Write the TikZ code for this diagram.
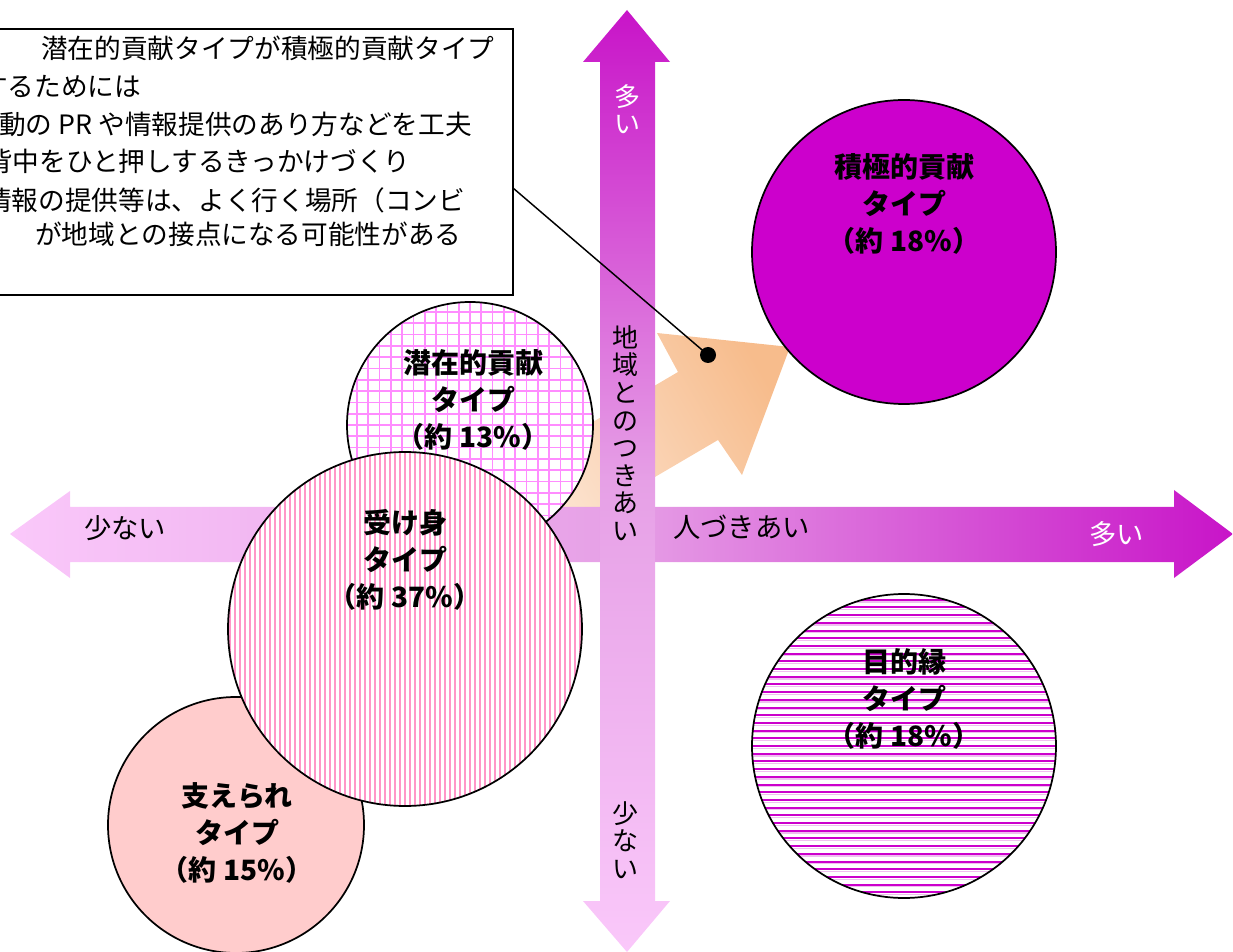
\documentclass[tikz,border=0pt]{standalone}
\usepackage{fontspec}
\setmainfont{Noto Sans CJK JP}
\definecolor{lpink}{RGB}{250,200,250}
\definecolor{midpink}{RGB}{230,160,230}
\definecolor{mag}{RGB}{200,20,200}
\definecolor{orl}{RGB}{252,226,206}
\definecolor{ord}{RGB}{247,188,140}
\definecolor{gridc}{RGB}{255,140,255}
\definecolor{stripc}{RGB}{255,150,200}
\definecolor{solidmag}{RGB}{204,0,204}
\definecolor{sasac}{RGB}{255,204,204}
\definecolor{lavl}{RGB}{240,190,240}
\begin{document}
\begin{tikzpicture}[x=0.75pt,y=-0.75pt,
  blob/.style={circle, draw=black, line width=1.3pt, inner sep=0pt, outer sep=0pt},
  lbl/.style={font=\fontsize{21}{27.5}\selectfont\bfseries, align=center, text=black, inner sep=0pt},
  axh/.style={font=\fontsize{20.5}{22}\selectfont, inner sep=0pt},
  axv/.style={font=\fontsize{19.5}{20.7}\selectfont, align=center, inner sep=0pt},
  ctext/.style={font=\fontsize{20}{24}\selectfont, anchor=west, inner sep=0pt}
]
\useasboundingbox (0,0) rectangle (1233,952);
\clip (0,0) rectangle (1233,952);

% orange arrow
\shade[top color=ord, bottom color=orl, shading angle=-60]
 (790,347) -- (657,333) -- (678,372) -- (528,460) -- (568,528) -- (718,440) -- (742,475) -- cycle;

% horizontal axis arrow
\shade[left color=lpink, right color=mag, middle color=midpink]
 (10,534) -- (70,491) -- (70,507) -- (1174,507) -- (1174,490) -- (1233,534) -- (1174,578) -- (1174,562) -- (70,562) -- (70,578) -- cycle;

% vertical axis arrow
\shade[top color=mag, bottom color=lpink, middle color=midpink]
 (627,10) -- (670,62) -- (655,62) -- (655,901) -- (670,901) -- (627,952) -- (583,901) -- (600,901) -- (600,62) -- (583,62) -- cycle;

% axis labels
\node[axv] (tsukiai) at (625,433) {地\\域\\と\\の\\つ\\き\\あ\\い};
\node[axv, text=white] (ooiv) at (627,109) {多\\い};
\node[axv] (sukunaiv) at (625,840) {少\\な\\い};
\node[axh, anchor=west] (hito) at (673,527) {人づきあい};
\node[axh, anchor=west, text=white] (ooih) at (1089,534) {多い};
\node[axh, anchor=west] (sukunaih) at (84,528) {少ない};

% circles
\node[blob, fill=white, minimum size=184.5pt, path picture={
  \foreach \i in {-11,...,11} {
   \draw[gridc, line width=1.3pt] ([xshift=\i*8.475pt]path picture bounding box.north) -- ([xshift=\i*8.475pt]path picture bounding box.south);
   \draw[gridc, line width=1.3pt] ([yshift=\i*8.475pt]path picture bounding box.west) -- ([yshift=\i*8.475pt]path picture bounding box.east);
  }}] (sen) at (470,425) {};
\node[blob, fill=sasac, minimum size=192pt] (sasa) at (236,825) {};
\node[blob, fill=white, minimum size=265.5pt, path picture={
  \foreach \i in {-36,...,36} {
   \draw[stripc, line width=2.1pt] ([xshift=\i*3.75pt]path picture bounding box.north) -- ([xshift=\i*3.75pt]path picture bounding box.south);
  }}] (uke) at (405,629) {};
\node[blob, fill=solidmag, minimum size=228pt] (seki) at (904,252) {};
\node[blob, fill=white, minimum size=228pt, path picture={
  \foreach \i in {-20,...,20} {
   \draw[solidmag, line width=1.5pt] ([yshift=\i*5.775pt]path picture bounding box.west) -- ([yshift=\i*5.775pt]path picture bounding box.east);
   \draw[lavl, line width=0.9pt] ([yshift=\i*5.775pt-1.7pt]path picture bounding box.west) -- ([yshift=\i*5.775pt-1.7pt]path picture bounding box.east);
  }}] (moku) at (904,746) {};

% circle labels
\node[lbl] (lseki) at (904,204) {積極的貢献\\タイプ\\（約 18\%）};
\node[lbl] (lsen) at (473,400) {潜在的貢献\\タイプ\\（約 13\%）};
\node[lbl] (luke) at (405,560) {受け身\\タイプ\\（約 37\%）};
\node[lbl] (lmoku) at (904,699) {目的縁\\タイプ\\（約 18\%）};
\node[lbl] (lsasa) at (237,833) {支えられ\\タイプ\\（約 15\%）};

% callout
\node[draw=black, line width=1.1pt, fill=white, minimum width=392.25pt, minimum height=199.5pt, inner sep=0pt] (callbox) at (251.5,162) {};
\node[ctext] (c1) at (41,48) {潜在的貢献タイプが積極的貢献タイプ};
\node[ctext] (c2) at (-19,87) {するためには};
\node[ctext] (c3) at (-1,124) {動の PR や情報提供のあり方などを工夫};
\node[ctext] (c4) at (-14,161) {背中をひと押しするきっかけづくり};
\node[ctext] (c5) at (-15,200) {情報の提供等は、よく行く場所（コンビ};
\node[ctext] (c6) at (35,234) {が地域との接点になる可能性がある};
\coordinate (cstart) at (513,188);
\node[circle, fill=black, minimum size=12pt, inner sep=0pt] (dot) at (708,355) {};
\draw[line width=1.1pt] (cstart) -- (dot.center);
\end{tikzpicture}
\end{document}
